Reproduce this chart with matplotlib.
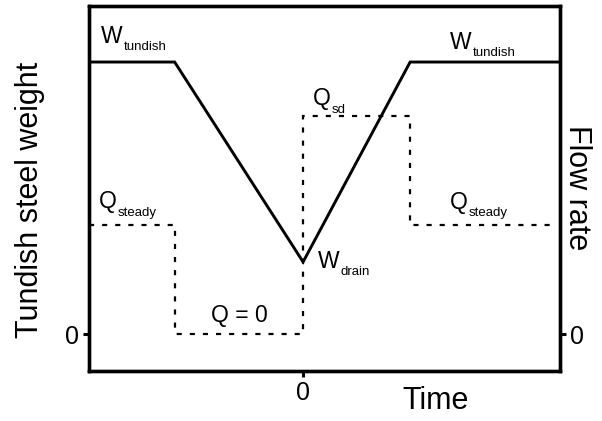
import matplotlib
matplotlib.use("Agg")
import matplotlib.pyplot as plt

plt.rcParams["font.family"] = ["Liberation Sans", "DejaVu Sans"]

# Tundish steel weight during a ladle change (solid line)
time_w = [-2.0, -1.2, 0.0, 1.0, 2.4]
weight = [1.0, 1.0, 0.265, 1.0, 1.0]

# Flow rate out of the tundish (dashed steps)
flow_edges = [-2.0, -1.2, 0.0, 1.0, 2.35]
flow = [0.40, 0.0, 0.80, 0.40]

fig = plt.figure(figsize=(6.02, 4.21), dpi=100)
W, H = 602, 421
left, right, top, bottom = 89, 560, 6, 371
ax = fig.add_axes([left / W, 1 - bottom / H, (right - left) / W, (bottom - top) / H])

ax.plot(time_w, weight, color="black", lw=2.1, solid_joinstyle="miter")
ax.stairs(flow, flow_edges, baseline=None, color="black", lw=1.6,
          linestyle=(0, (2.3, 3.6)))

ax.set_xlim(-2.0, 2.4)
ax.set_ylim(-0.136, 1.206)

for s in ax.spines.values():
    s.set_linewidth(2.4)

ax.set_xticks([0])
ax.set_xticklabels(["0"])
ax.set_yticks([0])
ax.set_yticklabels(["0"])
ax.tick_params(axis="both", length=4, width=2.2, labelsize=18, pad=3)

ax2 = ax.twinx()
ax2.set_ylim(ax.get_ylim())
ax2.set_yticks([0])
ax2.set_yticklabels(["0"])
ax2.tick_params(axis="y", length=4, width=2.2, labelsize=18, pad=3)
for s in ax2.spines.values():
    s.set_linewidth(2.4)


def label(x, y, main, sub=None, size=16.5, subsize=9.5):
    t = ax.text(x, y, main, fontsize=size, va="baseline", ha="left")
    if sub:
        ax.annotate(sub, xy=(1, 0), xycoords=t, xytext=(1, -2.5),
                    textcoords="offset pixels", fontsize=subsize,
                    va="baseline", ha="left")
    return t


label(-1.888, 1.07, "W", "tundish")
label(1.374, 1.048, "W", "tundish")
label(0.093, 0.842, "Q", "sd")
label(-1.907, 0.463, "Q", "steady")
label(1.374, 0.46, "Q", "steady")
label(0.14, 0.243, "W", "drain")
label(-0.86, 0.044, "Q = 0")

fig.text(30 / W, 1 - 200 / H, "Tundish steel weight", rotation=90,
         fontsize=22, ha="center", va="center")
fig.text(577 / W, 1 - 188 / H, "Flow rate", rotation=270,
         fontsize=22, ha="center", va="center")
fig.text(436 / W, 1 - 401 / H, "Time", fontsize=22, ha="center", va="center")

fig.savefig("out.png", dpi=100)
